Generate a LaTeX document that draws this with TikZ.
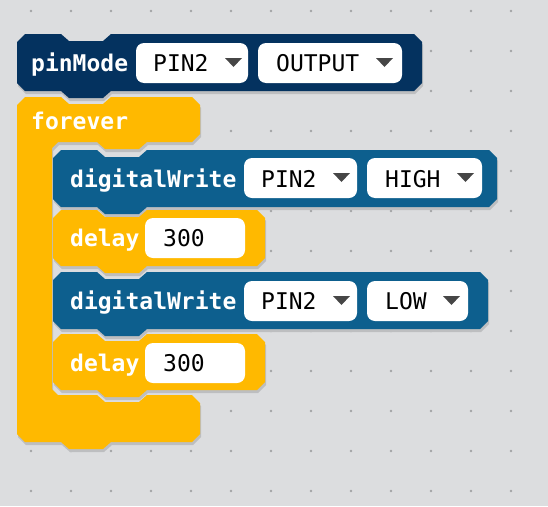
\documentclass[tikz,border=0pt]{standalone}
\usepackage{fontspec}
\setmonofont{DejaVu Sans Mono}
\definecolor{canvas}{HTML}{DCDDDF}
\definecolor{griddot}{HTML}{A2A3A5}
\definecolor{blkshadow}{HTML}{BDBEC0}
\definecolor{setupblue}{HTML}{04325F}
\definecolor{ioblue}{HTML}{0D5F8E}
\definecolor{ctrlyellow}{HTML}{FFB900}
\definecolor{arrowgray}{HTML}{464646}

% statement block: left, top, right, bottom (y grows downwards)
\newcommand\stmtpath[4]{(#1,#2+8) -- (#1+8,#2) -- (#1+44,#2) -- (#1+52,#2+7)
  -- (#1+86,#2+7) -- (#1+94,#2) -- (#3-8,#2) -- (#3,#2+8) -- (#3,#4-8)
  -- (#3-8,#4) -- (#1+94,#4) -- (#1+86,#4+7) -- (#1+52,#4+7) -- (#1+44,#4)
  -- (#1+8,#4) -- (#1,#4-8) -- cycle}
% C-shaped loop block
\newcommand\looppath{(17,105) -- (25,97) -- (61,97) -- (69,104) -- (103,104)
  -- (111,97) -- (192,97) -- (200,105) -- (200,134) -- (192,142) -- (147,142)
  -- (139,149) -- (105,149) -- (97,142) -- (58,142) -- (52,148) -- (52,389)
  -- (58,395) -- (97,395) -- (105,402) -- (139,402) -- (147,395) -- (192,395)
  -- (200,403) -- (200,434) -- (192,442) -- (111,442) -- (103,449) -- (69,449)
  -- (61,442) -- (25,442) -- (17,434) -- cycle}
% dropdown arrow, given left x and centre y
\newcommand\ddarrow[2]{\fill[arrowgray] (#1,#2-5) -- (#1+17,#2-5) -- (#1+8.5,#2+4) -- cycle;}

\tikzset{
  lbl/.style={anchor=base west, inner sep=0, text=white,
    font=\fontsize{23}{27}\selectfont\ttfamily\bfseries},
  val/.style={anchor=base west, inner sep=0, text=black,
    font=\fontsize{23}{27}\selectfont\ttfamily},
  field/.style={fill=white, rounded corners=8},
  shade/.style={fill=blkshadow, shift={(1,3)}},
}

\begin{document}
\begin{tikzpicture}[x=1pt,y=-1pt]
  \fill[canvas] (0,0) rectangle (548,506);
  \useasboundingbox (0,0) rectangle (548,506);

  % workspace dot grid
  \foreach \gx in {31,71,...,511}
    \foreach \gy in {11,51,...,491}
      \fill[griddot] (\gx,\gy) circle (1.4);

  % drop shadows
  \fill[shade] \stmtpath{17}{34}{422}{91};
  \fill[shade] \looppath;
  \fill[shade] \stmtpath{53}{150}{497}{207};
  \fill[shade] \stmtpath{53}{210}{265}{266};
  \fill[shade] \stmtpath{53}{272}{488}{329};
  \fill[shade] \stmtpath{53}{334}{265}{390};

  % pinMode
  \fill[setupblue] \stmtpath{17}{34}{422}{91};
  \node[lbl] (pinmode) at (31,71) {pinMode};
  \fill[field] (136,43) rectangle (248,83);
  \node[val] (pinA) at (153,71) {PIN2};
  \ddarrow{225}{63}
  \fill[field] (258,43) rectangle (402,83);
  \node[val] (modeA) at (276,71) {OUTPUT};
  \ddarrow{376}{63}

  % forever
  \fill[ctrlyellow] \looppath;
  \node[lbl] (forever) at (31,129) {forever};

  % digitalWrite HIGH
  \fill[ioblue] \stmtpath{53}{150}{497}{207};
  \node[lbl] (writeA) at (70,187) {digitalWrite};
  \fill[field] (244,158) rectangle (357,198);
  \node[val] (pinB) at (261,187) {PIN2};
  \ddarrow{333}{178}
  \fill[field] (367,158) rectangle (482,198);
  \node[val] (levelA) at (385,187) {HIGH};
  \ddarrow{457}{178}

  % delay 300
  \fill[ctrlyellow] \stmtpath{53}{210}{265}{266};
  \node[lbl] (delayA) at (70,246) {delay};
  \fill[field] (145,218) rectangle (245,258);
  \node[val] (msA) at (163,246) {300};

  % digitalWrite LOW
  \fill[ioblue] \stmtpath{53}{272}{488}{329};
  \node[lbl] (writeB) at (70,309) {digitalWrite};
  \fill[field] (244,281) rectangle (357,321);
  \node[val] (pinC) at (261,309) {PIN2};
  \ddarrow{333}{301}
  \fill[field] (367,281) rectangle (468,321);
  \node[val] (levelB) at (385,309) {LOW};
  \ddarrow{443}{301}

  % delay 300
  \fill[ctrlyellow] \stmtpath{53}{334}{265}{390};
  \node[lbl] (delayB) at (70,371) {delay};
  \fill[field] (145,343) rectangle (245,383);
  \node[val] (msB) at (163,371) {300};
\end{tikzpicture}
\end{document}
